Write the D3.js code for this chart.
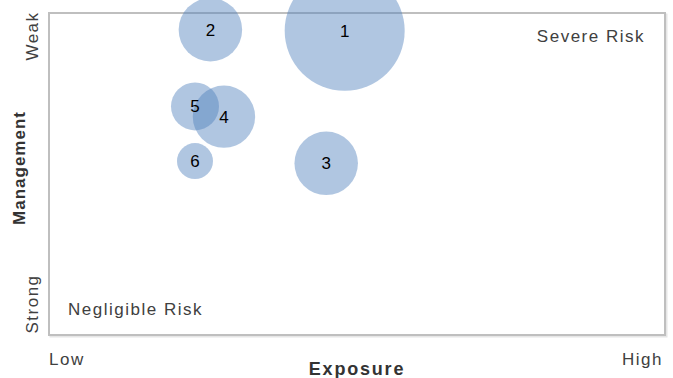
<!doctype html>
<html>
<head>
<meta charset="utf-8">
<title>Risk bubble chart</title>
<style>
  body { margin: 0; background: #fff; }
  text { font-family: "Liberation Sans", Arial, sans-serif; }
</style>
</head>
<body>
<div id="chart-area"></div>
<script src="https://cdn.jsdelivr.net/npm/d3@7"></script>
<script type="text/javascript">
  // data
  var labels = ['1', '2', '3', '4', '5', '6'];
  var exposure = [4.8, 2.62, 4.5, 2.84, 2.37, 2.37];
  var management = [9.45, 9.48, 5.33, 6.78, 7.1, 5.4];
  var sizes = [100, 28, 28, 27, 16, 9];

  var width = 673, height = 378;
  var plot = {left: 49, right: 665, top: 13, bottom: 335};

  var svg = d3.select('#chart-area')
      .append('svg')
      .attr('width', width)
      .attr('height', height);

  // Scale
  var x = d3.scaleLinear().domain([0, 10]).range([plot.left, plot.right]);
  var y = d3.scaleLinear().domain([0, 10]).range([plot.bottom, plot.top]);
  var r = d3.scaleSqrt().domain([0, d3.max(sizes)]).range([0, 60]);

  // plot frame (with a light shadow)
  svg.append('rect')
      .attr('x', plot.left + 1.5)
      .attr('y', plot.top + 1.5)
      .attr('width', plot.right - plot.left)
      .attr('height', plot.bottom - plot.top)
      .attr('fill', 'none')
      .attr('stroke', '#e6e6e6')
      .attr('stroke-width', 2);
  svg.append('rect')
      .attr('x', plot.left)
      .attr('y', plot.top)
      .attr('width', plot.right - plot.left)
      .attr('height', plot.bottom - plot.top)
      .attr('fill', '#fff')
      .attr('stroke', '#bfbfbf')
      .attr('stroke-width', 2);

  var data = labels.map(function(d, i) {
    return {label: d, x: exposure[i], y: management[i], size: sizes[i]};
  });

  // bubbles
  svg.selectAll('circle')
      .data(data)
      .enter()
      .append('circle')
      .attr('cx', function(d) { return x(d.x); })
      .attr('cy', function(d) { return y(d.y); })
      .attr('r', function(d) { return r(d.size); })
      .attr('fill', '#4f81bd')
      .attr('fill-opacity', 0.45);

  svg.selectAll('text.num')
      .data(data)
      .enter()
      .append('text')
      .attr('class', 'num')
      .attr('x', function(d) { return x(d.x); })
      .attr('y', function(d) { return y(d.y) + 6; })
      .attr('text-anchor', 'middle')
      .attr('font-size', '17px')
      .attr('fill', '#000')
      .text(function(d) { return d.label; });

  // corner notes
  svg.append('text')
      .attr('x', 645)
      .attr('y', 42)
      .attr('text-anchor', 'end')
      .attr('font-size', '17px')
      .attr('letter-spacing', '1.5px')
      .attr('fill', '#404040')
      .text('Severe Risk');
  svg.append('text')
      .attr('x', 68)
      .attr('y', 315)
      .attr('font-size', '17px')
      .attr('letter-spacing', '1.5px')
      .attr('fill', '#404040')
      .text('Negligible Risk');

  // x axis labels
  svg.append('text')
      .attr('x', x(0))
      .attr('y', 365)
      .attr('font-size', '17px')
      .attr('letter-spacing', '1.5px')
      .attr('fill', '#404040')
      .text('Low');
  svg.append('text')
      .attr('x', 663)
      .attr('y', 365)
      .attr('text-anchor', 'end')
      .attr('font-size', '17px')
      .attr('letter-spacing', '1.5px')
      .attr('fill', '#404040')
      .text('High');
  svg.append('text')
      .attr('x', 357)
      .attr('y', 375)
      .attr('text-anchor', 'middle')
      .attr('font-size', '18px')
      .attr('font-weight', 'bold')
      .attr('letter-spacing', '1.8px')
      .attr('fill', '#333')
      .text('Exposure');

  // y axis labels
  svg.append('text')
      .attr('transform', 'translate(38,36) rotate(-90)')
      .attr('text-anchor', 'middle')
      .attr('font-size', '17px')
      .attr('letter-spacing', '1.5px')
      .attr('fill', '#404040')
      .text('Weak');
  svg.append('text')
      .attr('transform', 'translate(38,304) rotate(-90)')
      .attr('text-anchor', 'middle')
      .attr('font-size', '17px')
      .attr('letter-spacing', '1.5px')
      .attr('fill', '#404040')
      .text('Strong');
  svg.append('text')
      .attr('transform', 'translate(25,168) rotate(-90)')
      .attr('text-anchor', 'middle')
      .attr('font-size', '17px')
      .attr('font-weight', 'bold')
      .attr('letter-spacing', '1px')
      .attr('fill', '#333')
      .text('Management');
</script>
</body>
</html>
